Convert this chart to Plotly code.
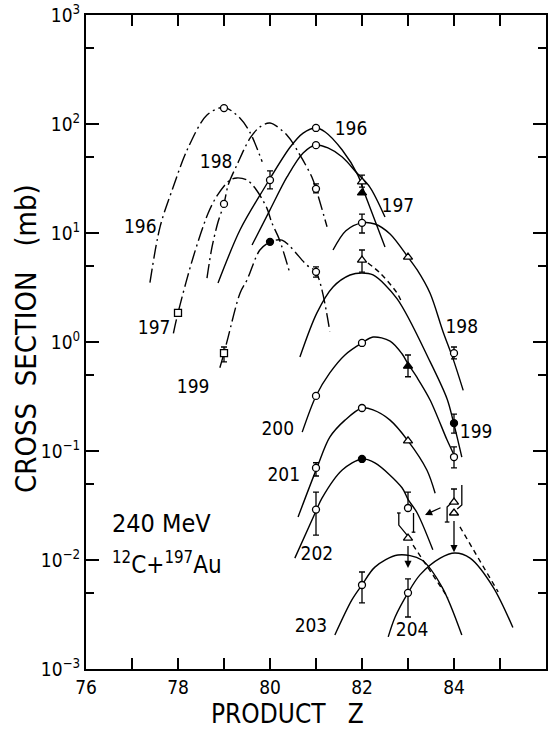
import numpy as np
import plotly.graph_objects as go

# ---------------- data ----------------
# dash-dot curves (left family)
dd196_x = [77.39, 77.61, 77.89, 78.20, 78.63, 79.00, 79.35, 79.57, 79.83]
dd196_y = [3.5, 11.4, 26, 58, 121, 142, 113, 83, 45]

dd197_x = [77.90, 78.00, 78.33, 78.65, 78.85, 79.13, 79.28, 79.50, 79.67, 79.93, 80.04, 80.20, 80.43]
dd197_y = [1.2, 1.85, 6.0, 15, 22, 30.6, 32, 30.6, 26, 17, 12.4, 8.8, 4.3]

dd198_x = [78.63, 78.74, 78.87, 79.00, 79.09, 79.28, 79.57, 79.78, 80.00, 80.37, 80.65, 80.91, 81.00, 81.24]
dd198_y = [3.86, 7.45, 12.6, 18.5, 27.5, 42, 74.5, 94, 102, 79, 52, 32.6, 25.4, 11.4]

dd199_x = [78.91, 79.00, 79.09, 79.35, 79.50, 79.78, 80.00, 80.26, 80.80, 81.00, 81.30]
dd199_y = [0.58, 0.79, 1.11, 2.82, 3.71, 6.98, 8.26, 8.6, 5.08, 4.38, 1.25]

# solid curves (right family)
s196_x = [78.87, 79.35, 79.85, 80.44, 80.72, 81.00, 81.20, 81.57, 81.91, 82.07, 82.50]
s196_y = [3.48, 10.7, 24.8, 61.5, 82.6, 91.8, 84.5, 57.7, 34.0, 22.3, 7.45]

s197_x = [79.61, 80.00, 80.37, 80.72, 81.00, 81.26, 81.57, 81.89, 82.17, 82.50]
s197_y = [7.76, 16.3, 32.7, 54.2, 64.1, 60.3, 49.8, 35.5, 26.4, 14.0]

s198_x = [81.37, 81.65, 82.00, 82.28, 82.61, 83.00, 83.20, 83.48, 83.76, 83.98, 84.20]
s198_y = [6.98, 10.5, 12.4, 12.1, 9.8, 6.0, 4.58, 2.8, 1.25, 0.70, 0.36]

s199_x = [80.65, 81.02, 81.37, 81.74, 82.00, 82.24, 82.76, 83.48, 83.85, 83.98, 84.17]
s199_y = [0.727, 1.85, 3.2, 4.12, 4.3, 4.12, 2.5, 0.66, 0.30, 0.19, 0.088]

s199d_x = [82.13, 82.39, 82.76, 82.87]
s199d_y = [5.3, 4.3, 2.82, 2.28]

s200_x = [80.70, 81.00, 81.30, 81.63, 82.00, 82.24, 82.61, 82.87, 83.00, 83.20, 83.48, 83.85, 83.98]
s200_y = [0.149, 0.32, 0.52, 0.76, 0.98, 1.11, 1.02, 0.78, 0.63, 0.47, 0.294, 0.126, 0.096]

s201_x = [80.61, 81.02, 81.30, 81.63, 82.00, 82.24, 82.61, 83.00, 83.41, 83.59]
s201_y = [0.0248, 0.070, 0.134, 0.192, 0.248, 0.238, 0.192, 0.124, 0.067, 0.041]

s202_x = [80.54, 81.02, 81.13, 81.57, 82.00, 82.28, 82.87, 83.00, 83.20, 83.54]
s202_y = [0.0104, 0.0294, 0.037, 0.067, 0.0845, 0.0777, 0.046, 0.036, 0.027, 0.0124]

s203_x = [81.41, 81.78, 82.00, 82.28, 82.78, 83.30, 83.74, 84.17]
s203_y = [0.00205, 0.0043, 0.0059, 0.0086, 0.0111, 0.010, 0.00565, 0.00205]

s204_x = [82.57, 82.72, 83.00, 83.26, 83.70, 84.02, 84.35, 84.85, 85.28]
s204_y = [0.00197, 0.0030, 0.005, 0.0073, 0.0104, 0.0116, 0.0104, 0.00565, 0.0024]

# dashed extrapolations from upper-limit triangles
d203_x = [83.11, 83.87]
d203_y = [0.0137, 0.0045]
d204_x = [84.13, 84.96]
d204_y = [0.0201, 0.0051]

# data points
oc_x = [79, 79, 80, 81, 81, 81, 81, 82, 84, 82, 81, 82, 84, 81, 81, 83, 82, 83]
oc_y = [140, 18.5, 30.6, 25.4, 92, 64, 4.4, 12.4, 0.79, 0.98, 0.32, 0.248, 0.088, 0.070, 0.029, 0.030, 0.0059, 0.005]
oc_hi = [140, 18.5, 37.1, 28.2, 92, 64, 4.88, 14.9, 0.90, 0.98, 0.32, 0.248, 0.109, 0.078, 0.042, 0.042, 0.00776, 0.0067]
oc_lo = [140, 18.5, 25.4, 23.3, 92, 64, 3.94, 10.0, 0.70, 0.98, 0.32, 0.248, 0.070, 0.059, 0.0169, 0.030, 0.00404, 0.0030]

fc_x = [80, 84, 82]
fc_y = [8.3, 0.18, 0.0845]
fc_hi = [8.3, 0.218, 0.0845]
fc_lo = [8.3, 0.146, 0.0845]

sq_x = [78, 79]
sq_y = [1.85, 0.79]
sq_hi = [1.85, 0.90]
sq_lo = [1.85, 0.656]

ot_x = [82, 83, 82, 83, 84, 84, 83]
ot_y = [29.4, 6.0, 5.65, 0.124, 0.034, 0.027, 0.0159]
ot_hi = [34.0, 6.0, 6.98, 0.124, 0.0448, 0.027, 0.0159]
ot_lo = [26.4, 6.0, 4.38, 0.124, 0.034, 0.027, 0.0159]

ft_x = [82, 83]
ft_y = [23.3, 0.60]
ft_hi = [23.3, 0.76]
ft_lo = [23.3, 0.48]

# displaced error brackets near Z=83 and Z=84
br_x = [82.76, 82.84, None, 82.80, 82.80, 82.98, None,
        83.12, 83.12, None, 83.08, 83.16, None,
        84.17, 84.17, 84.07, None,
        83.96, 83.85, 83.85, None, 83.80, 83.90]
br_y = [0.027, 0.027, None, 0.027, 0.0209, 0.0169, None,
        0.027, 0.018, None, 0.018, 0.018, None,
        0.0488, 0.032, 0.0294, None,
        0.034, 0.0306, 0.0223, None, 0.0223, 0.0223]

# upper-limit arrows (from, to)
ul_x = [83, 84]
ul_from = [0.0159, 0.027]
ul_to = [0.00845, 0.0118]
# slanted arrow (tail -> head)
sa_tail = (83.74, 0.0306)
sa_head = (83.37, 0.0259)

# curve labels
lbl_text = ["196", "197", "198", "199", "200", "201", "202", "203", "204",
            "196", "197", "198", "199"]
lbl_x = [77.18, 77.48, 78.83, 78.33, 80.17, 80.30, 81.02, 80.89, 83.09,
         81.76, 82.78, 84.17, 84.48]
lbl_y = [11.1, 1.31, 43.9, 0.378, 0.156, 0.059, 0.0111, 0.00243, 0.00223,
         88, 17.3, 1.34, 0.146]

x_ticks = [76, 77, 78, 79, 80, 81, 82, 83, 84, 85, 86]
x_ticktext = ["76", "", "78", "", "80", "", "82", "", "84", "", "86"]
y_ticks = [1e-3, 1e-2, 1e-1, 1e0, 1e1, 1e2, 1e3]
y_ticktext = ["10<sup>−3</sup>", "10<sup>−2</sup>", "10<sup>−1</sup>", "10<sup>0</sup>",
              "10<sup>1</sup>", "10<sup>2</sup>", "10<sup>3</sup>"]
y_minor = [5e-3, 5e-2, 5e-1, 5e0, 5e1, 5e2]

FONT = "Liberation Sans Narrow, DejaVu Sans Condensed, Liberation Sans, sans-serif"
DASHDOT = "14px,4px,2px,4px"
LW = 1.4

fig = go.Figure()

def add_curve(x, y, dash="solid"):
    fig.add_trace(go.Scatter(x=x, y=y, mode="lines", hoverinfo="skip",
                             line=dict(color="black", width=LW, dash=dash,
                                       shape="spline", smoothing=0.9),
                             showlegend=False))

for cx, cy in [(dd196_x, dd196_y), (dd197_x, dd197_y), (dd198_x, dd198_y), (dd199_x, dd199_y)]:
    add_curve(cx, cy, DASHDOT)
for cx, cy in [(s196_x, s196_y), (s197_x, s197_y), (s198_x, s198_y), (s199_x, s199_y),
               (s200_x, s200_y), (s201_x, s201_y), (s202_x, s202_y), (s203_x, s203_y),
               (s204_x, s204_y)]:
    add_curve(cx, cy)
for cx, cy in [(s199d_x, s199d_y), (d203_x, d203_y), (d204_x, d204_y)]:
    add_curve(cx, cy, "5px,4px")

fig.add_trace(go.Scatter(x=br_x, y=br_y, mode="lines", hoverinfo="skip",
                         line=dict(color="black", width=1.3), showlegend=False))

def add_points(x, y, hi, lo, symbol, fill, size):
    plus = [h - v for h, v in zip(hi, y)]
    minus = [v - l for v, l in zip(y, lo)]
    fig.add_trace(go.Scatter(
        x=x, y=y, mode="markers", showlegend=False,
        marker=dict(symbol=symbol, size=size, color=fill,
                    line=dict(color="black", width=1.3)),
        error_y=dict(type="data", symmetric=False, array=plus, arrayminus=minus,
                     color="black", thickness=1.3, width=3)))

add_points(oc_x, oc_y, oc_hi, oc_lo, "circle", "white", 7)
add_points(fc_x, fc_y, fc_hi, fc_lo, "circle", "black", 7)
add_points(sq_x, sq_y, sq_hi, sq_lo, "square", "white", 7)
add_points(ot_x, ot_y, ot_hi, ot_lo, "triangle-up", "white", 8)
add_points(ft_x, ft_y, ft_hi, ft_lo, "triangle-up", "black", 8)

fig.add_trace(go.Scatter(x=lbl_x, y=lbl_y, text=lbl_text, mode="text", hoverinfo="skip",
                         textfont=dict(family=FONT, size=19, color="black"),
                         showlegend=False))

annotations = []
for xv, yf, yt in zip(ul_x, ul_from, ul_to):
    annotations.append(dict(x=xv, y=np.log10(yt), ax=xv, ay=np.log10(yf) - 0.06,
                            xref="x", yref="y", axref="x", ayref="y", text="",
                            showarrow=True, arrowhead=2, arrowsize=1.1, arrowwidth=1.3,
                            arrowcolor="black", standoff=0, startstandoff=0))
annotations.append(dict(x=sa_head[0], y=np.log10(sa_head[1]), ax=sa_tail[0], ay=np.log10(sa_tail[1]),
                        xref="x", yref="y", axref="x", ayref="y", text="",
                        showarrow=True, arrowhead=2, arrowsize=1.1, arrowwidth=1.3,
                        arrowcolor="black"))
annotations.append(dict(x=76.52, y=np.log10(0.0214), xref="x", yref="y", xanchor="left",
                        yanchor="middle", text="240 MeV", showarrow=False,
                        font=dict(family=FONT, size=25, color="black")))
annotations.append(dict(x=76.52, y=np.log10(0.0094), xref="x", yref="y", xanchor="left",
                        yanchor="middle", text="<sup>12</sup>C+<sup>197</sup>Au", showarrow=False,
                        font=dict(family=FONT, size=24, color="black")))
annotations.append(dict(x=-0.13, y=0.505, xref="paper", yref="paper", textangle=-90,
                        xanchor="center", yanchor="middle",
                        text="CROSS  SECTION   (mb)", showarrow=False,
                        font=dict(family=FONT, size=29, color="black")))
annotations.append(dict(x=0.437, y=-0.069, xref="paper", yref="paper",
                        xanchor="center", yanchor="middle",
                        text="PRODUCT   Z", showarrow=False,
                        font=dict(family=FONT, size=26, color="black")))

fig.update_layout(
    width=550, height=729,
    margin=dict(l=86, r=4, t=15, b=60, autoexpand=False),
    paper_bgcolor="white", plot_bgcolor="white",
    annotations=annotations,
    xaxis=dict(range=[76, 86], tickmode="array", tickvals=x_ticks, ticktext=x_ticktext,
               ticks="inside", ticklen=11, tickwidth=1.5, tickcolor="black",
               showline=True, linewidth=2, linecolor="black", mirror="ticks",
               showgrid=False, zeroline=False, automargin=False,
               tickfont=dict(family=FONT, size=19, color="black")),
    yaxis=dict(type="log", range=[-3, 3], tickmode="array", tickvals=y_ticks, ticktext=y_ticktext,
               ticks="inside", ticklen=13, tickwidth=1.5, tickcolor="black",
               minor=dict(tickmode="array", tickvals=y_minor, ticks="inside", ticklen=8,
                          tickwidth=1.5, tickcolor="black", showgrid=False),
               showline=True, linewidth=2, linecolor="black", mirror="ticks",
               showgrid=False, zeroline=False, automargin=False,
               tickfont=dict(family=FONT, size=19, color="black")),
)

fig.write_html("out.html", config={"displayModeBar": False},
               post_script="document.body.style.margin='0';document.body.style.overflow='hidden';")
